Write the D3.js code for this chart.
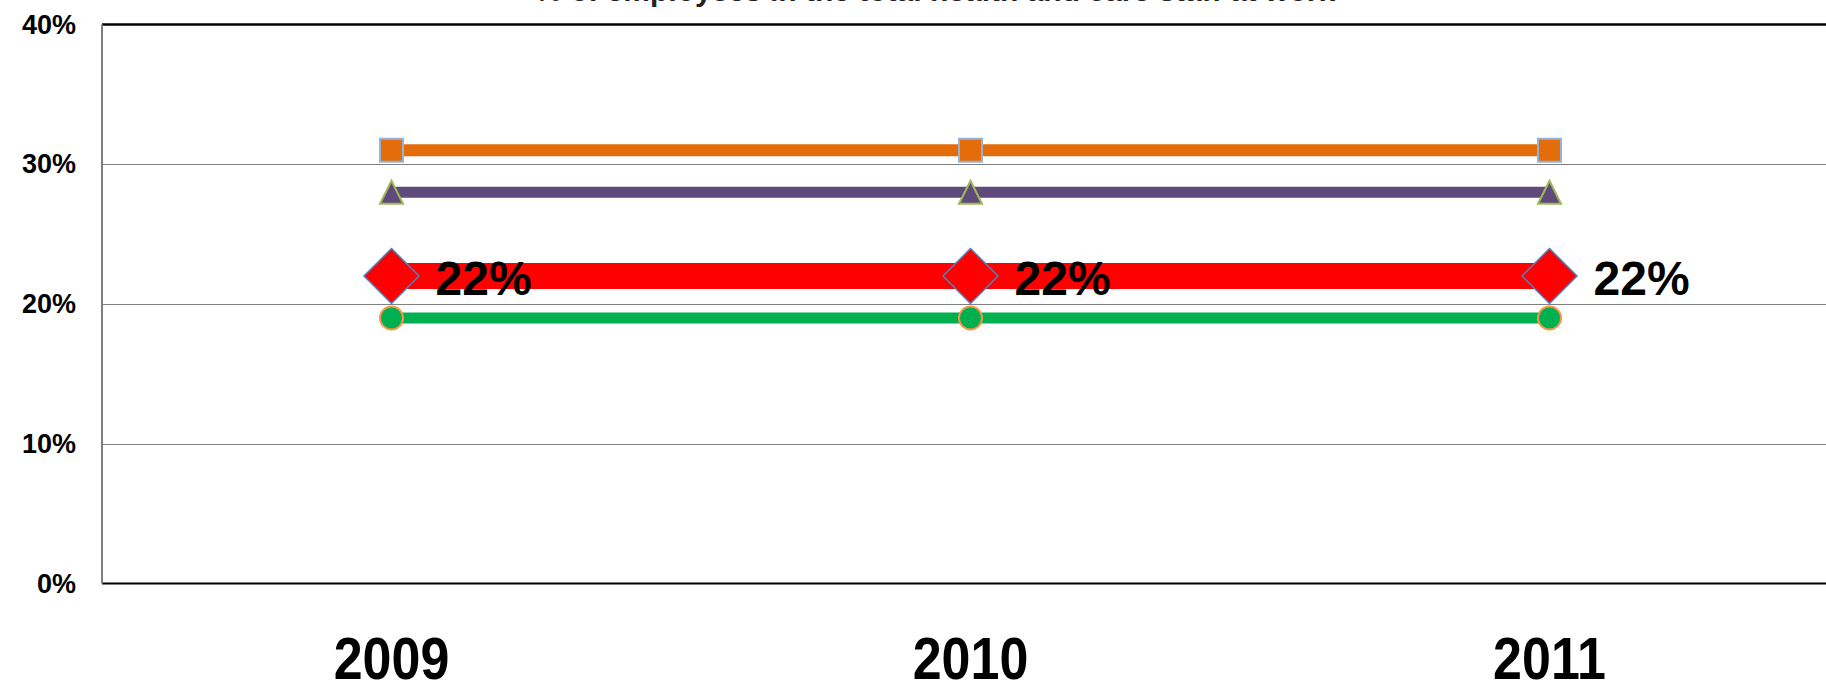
<!DOCTYPE html>
<html>
<head>
<meta charset="utf-8">
<script src="https://cdn.jsdelivr.net/npm/d3@7"></script>
<style>
  body { margin: 0; background: #fff; }
  svg { display: block; font-family: "Liberation Sans", Arial, sans-serif; }
</style>
</head>
<body>
<svg width="1826" height="684"></svg>
<script>
// data
var years = ["2009", "2010", "2011"];
var seriesOrange = [31, 31, 31];
var seriesPurple = [28, 28, 28];
var seriesRed = [22, 22, 22];
var seriesGreen = [19, 19, 19];
var yTicks = [0, 10, 20, 30, 40];
var titleText = "% of employees in the total health and care staff at work";

var svg = d3.select("svg"),
  plotLeft = 102,
  plotTop = 24.5,
  plotBottom = 583.5;

var x = d3.scaleBand()
  .domain(years)
  .range([plotLeft, plotLeft + 1737]);

var y = d3.scaleLinear()
  .domain([0, 40])
  .range([plotBottom, plotTop]);

function cx(d, i) { return x(years[i]) + x.bandwidth() / 2; }

// title (mostly above the visible area)
svg.append("text")
  .attr("x", 935)
  .attr("y", 1)
  .attr("text-anchor", "middle")
  .attr("font-size", 30)
  .attr("font-weight", "bold")
  .attr("fill", "#222")
  .text(titleText);

// gridlines
svg.append("g")
  .selectAll("line")
  .data(yTicks.slice(1, -1))
  .enter().append("line")
  .attr("x1", plotLeft)
  .attr("x2", 1826)
  .attr("y1", function(d) { return Math.round(y(d)) + 0.5; })
  .attr("y2", function(d) { return Math.round(y(d)) + 0.5; })
  .attr("stroke", "#808080")
  .attr("stroke-width", 1);

// top and bottom border
svg.append("line")
  .attr("x1", plotLeft).attr("x2", 1826)
  .attr("y1", y(40)).attr("y2", y(40))
  .attr("stroke", "#000").attr("stroke-width", 2.5);

svg.append("line")
  .attr("x1", plotLeft).attr("x2", 1826)
  .attr("y1", y(0)).attr("y2", y(0))
  .attr("stroke", "#000").attr("stroke-width", 2);

// left axis line
svg.append("line")
  .attr("x1", plotLeft).attr("x2", plotLeft)
  .attr("y1", y(40)).attr("y2", y(0))
  .attr("stroke", "#808080").attr("stroke-width", 2);

// y labels
var yAxis = svg.append("g")
  .attr("transform", "translate(" + plotLeft + ",0)")
  .call(d3.axisLeft(y).tickValues(yTicks).tickSize(0).tickPadding(26)
    .tickFormat(function(d) { return d + "%"; }));
yAxis.select(".domain").remove();
yAxis.selectAll("text")
  .attr("font-family", "'Liberation Sans', Arial, sans-serif")
  .attr("font-size", 27)
  .attr("font-weight", "bold")
  .attr("fill", "#000");

// x labels
svg.append("g")
  .selectAll("text")
  .data(years)
  .enter().append("text")
  .attr("text-anchor", "middle")
  .attr("transform", function(d) { return "translate(" + (x(d) + x.bandwidth() / 2) + ",679) scale(1,1.15)"; })
  .attr("font-size", 52)
  .attr("font-weight", "bold")
  .attr("fill", "#000")
  .text(function(d) { return d; });

var line = d3.line()
  .x(cx)
  .y(function(d) { return y(d); });

// marker shapes, centred on the point
function squarePath(s) { return "M" + (-s / 2) + "," + (-s / 2) + "h" + s + "v" + s + "h" + (-s) + "Z"; }
function trianglePath(s) { return "M0," + (-s / 2) + "L" + (s / 2) + "," + (s / 2) + "L" + (-s / 2) + "," + (s / 2) + "Z"; }
function diamondPath(s) { return "M0," + (-s / 2) + "L" + (s / 2) + ",0L0," + (s / 2) + "L" + (-s / 2) + ",0Z"; }
function circlePath(s) { return d3.symbol(d3.symbolCircle, Math.PI * s * s / 4)(); }

var series = [
  { values: seriesOrange, color: "#E46C0A", width: 12, shape: squarePath(23), mfill: "#E46C0A", mstroke: "#95B3D7", mw: 2 },
  { values: seriesPurple, color: "#604A7B", width: 11, shape: trianglePath(23), mfill: "#604A7B", mstroke: "#9BBB59", mw: 2 },
  { values: seriesRed, color: "#FF0000", width: 26, shape: diamondPath(55), mfill: "#FF0000", mstroke: "#4F81BD", mw: 1.5 },
  { values: seriesGreen, color: "#00B050", width: 11, shape: circlePath(23), mfill: "#00B050", mstroke: "#F79646", mw: 2 }
];

var sg = svg.append("g")
  .selectAll("g")
  .data(series)
  .enter().append("g");

sg.append("path")
  .attr("d", function(d) { return line(d.values); })
  .attr("fill", "none")
  .attr("stroke", function(d) { return d.color; })
  .attr("stroke-width", function(d) { return d.width; });

sg.each(function(s) {
  d3.select(this).selectAll("path.marker")
    .data(s.values)
    .enter().append("path")
    .attr("class", "marker")
    .attr("transform", function(d, i) { return "translate(" + cx(d, i) + "," + y(d) + ")"; })
    .attr("d", s.shape)
    .attr("fill", s.mfill)
    .attr("stroke", s.mstroke)
    .attr("stroke-width", s.mw);
});

// data labels on the red series
svg.append("g")
  .selectAll("text")
  .data(seriesRed)
  .enter().append("text")
  .attr("x", function(d, i) { return cx(d, i) + 44; })
  .attr("y", function(d) { return y(d) + 19; })
  .attr("font-size", 48)
  .attr("font-weight", "bold")
  .attr("fill", "#000")
  .text(function(d) { return d + "%"; });
</script>
</body>
</html>
